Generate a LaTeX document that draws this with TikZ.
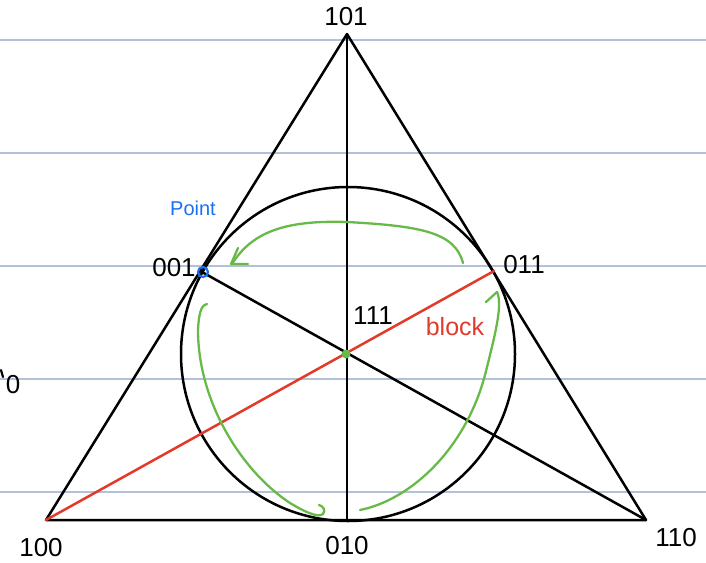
\documentclass[tikz,border=0pt]{standalone}
\usepackage{fontspec}
\setmainfont{Liberation Sans}
\definecolor{rulec}{RGB}{178,192,216}
\definecolor{redc}{RGB}{226,58,42}
\definecolor{greenc}{RGB}{104,186,72}
\definecolor{bluec}{RGB}{26,112,240}
\tikzset{
  rulel/.style={draw=rulec, line width=1.2pt},
  edge/.style={draw=black, line width=2.5pt},
  redline/.style={draw=redc, line width=2.5pt},
  garrow/.style={draw=greenc, line width=2.3pt},
  lbl/.style={font=\fontsize{26}{28}\selectfont, inner sep=0pt},
}
\begin{document}
\begin{tikzpicture}[x=1pt,y=-1pt, line cap=round, line join=round]
\useasboundingbox (0,0) rectangle (706,562);
% ruled paper lines
\foreach \y in {40,153,266,379,492} \draw[rulel] (0,\y) -- (706,\y);
% points
\coordinate (p101) at (347,34);
\coordinate (p100) at (46,520);
\coordinate (p110) at (646,520);
\coordinate (p001) at (202,272);
\coordinate (p011) at (494,271);
\coordinate (p010) at (347,521);
\coordinate (p111) at (346,354);
\coordinate (cc) at (348,354);
% lines of the Fano plane
\draw[edge] (p101) -- (p100) -- (p110) -- cycle;
\draw[edge] (p101) -- (p010);
\draw[edge] (p001) -- (p110);
\draw[edge] (cc) circle [radius=167pt];
\draw[redline] (p100) -- (p011);
% markers
\fill[greenc] (p111) circle [radius=4.5pt];
\draw[draw=bluec, line width=2.2pt] (203,272) circle [radius=5pt];
% green arrows
\draw[garrow] (463,263) .. controls (455,232) and (420,226) .. (347,222)
  .. controls (285,220) and (252,232) .. (232,264);
\draw[garrow] (238,248) -- (231,264) -- (248,264);
\draw[garrow] (207,304) .. controls (203,305) and (199,308) .. (198,330)
  .. controls (198,400) and (240,470) .. (290,503)
  .. controls (305,512) and (318,518) .. (323,514)
  .. controls (326,510) and (323,506) .. (319,505);
\draw[garrow] (360,510) .. controls (410,500) and (465,450) .. (485,375)
  .. controls (495,335) and (503,305) .. (497,292);
\draw[garrow] (497,292) -- (486,302);
% labels
\node[lbl] (l101) at (346,17) {101};
\node[lbl] (l001) at (174,268) {001};
\node[lbl] (l011) at (524,265) {011};
\node[lbl] (l111) at (373,316) {111};
\node[lbl] (l100) at (41,548) {100};
\node[lbl] (l010) at (347,546) {010};
\node[lbl] (l110) at (676,538) {110};
\node[lbl] (lleft) at (13,385) {0};
\draw[line width=2.2pt] (1,370) -- (3,377);
\node[lbl, text=redc, font=\fontsize{25}{27}\selectfont] (lblock) at (455,327) {block};
\node[lbl, text=bluec, font=\fontsize{20}{22}\selectfont] (lpoint) at (193,208) {Point};
\end{tikzpicture}
\end{document}
